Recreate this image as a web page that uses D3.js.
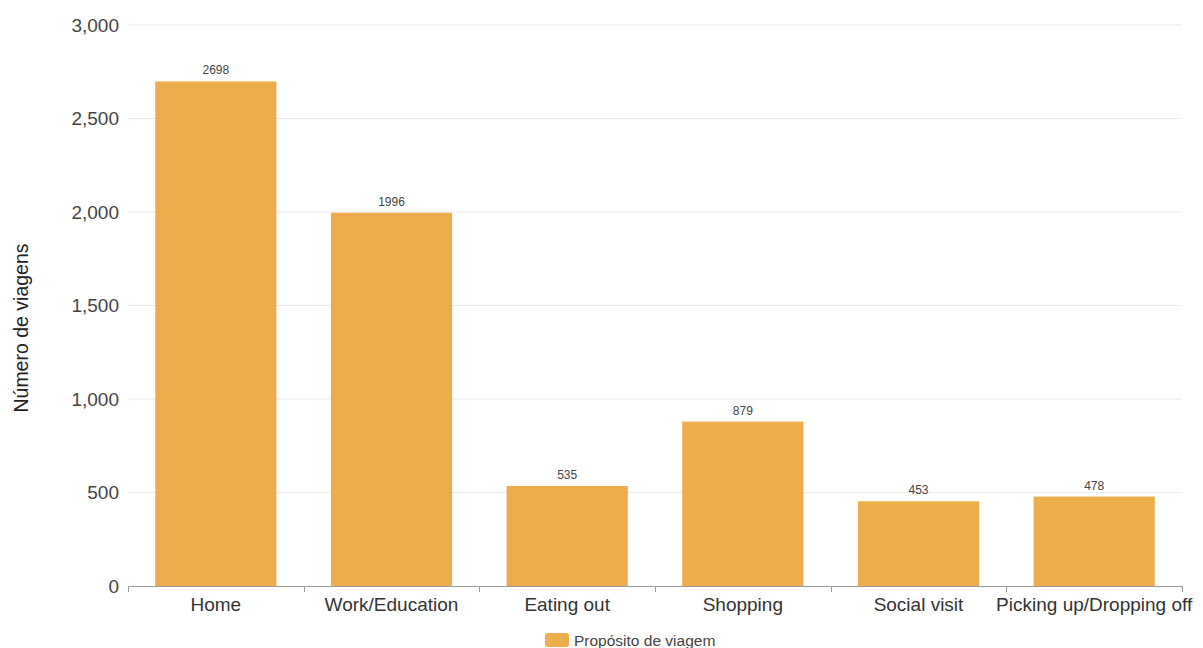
<!DOCTYPE html>
<html>
<head>
<meta charset="utf-8">
<script src="https://cdn.jsdelivr.net/npm/d3@7"></script>
<style>
  html, body { margin: 0; padding: 0; background: #fff; }
  svg { display: block; font-family: "Liberation Sans", Arial, Helvetica, sans-serif; }
</style>
</head>
<body>
<svg id="chart" width="1203" height="648"></svg>
<script>
// Trip purposes and the number of trips for each
const categories = ["Home", "Work/Education", "Eating out", "Shopping", "Social visit", "Picking up/Dropping off"];
const tripCounts = [2698, 1996, 535, 879, 453, 478];
const yTicks = [0, 500, 1000, 1500, 2000, 2500, 3000];
const seriesName = "Propósito de viagem";
const yTitle = "Número de viagens";

const svg = d3.select("#chart");
const margin = { left: 128, right: 21, top: 25, bottom: 62 };
const width = 1203, height = 648;
const barColor = "#ecad4a";

const x = d3.scaleBand()
  .domain(categories)
  .range([margin.left, width - margin.right])
  .paddingInner(0.31)
  .paddingOuter(0.155);

const y = d3.scaleLinear()
  .domain([0, 3000])
  .range([height - margin.bottom, margin.top]);

// Horizontal grid lines
svg.append("g")
  .selectAll("line")
  .data(yTicks.filter(d => d > 0))
  .join("line")
  .attr("x1", margin.left)
  .attr("x2", width - margin.right)
  .attr("y1", d => y(d))
  .attr("y2", d => y(d))
  .attr("stroke", "#ebebeb")
  .attr("stroke-width", 1);

// Y tick labels
svg.append("g")
  .selectAll("text")
  .data(yTicks)
  .join("text")
  .attr("x", margin.left - 9)
  .attr("y", d => y(d))
  .attr("dy", "0.35em")
  .attr("text-anchor", "end")
  .attr("font-size", 19)
  .attr("fill", "#444")
  .text(d => d3.format(",")(d));

// Bars
svg.append("g")
  .selectAll("rect")
  .data(tripCounts)
  .join("rect")
  .attr("x", (d, i) => x(categories[i]))
  .attr("width", x.bandwidth())
  .attr("y", d => y(d))
  .attr("height", d => y(0) - y(d))
  .attr("fill", barColor);

// Value labels above bars
svg.append("g")
  .selectAll("text")
  .data(tripCounts)
  .join("text")
  .attr("x", (d, i) => x(categories[i]) + x.bandwidth() / 2)
  .attr("y", d => y(d) - 7)
  .attr("text-anchor", "middle")
  .attr("font-size", 12)
  .attr("fill", "#444")
  .text(d => d);

// X axis
const step = x.step();
const xAxis = svg.append("g");
xAxis.append("line")
  .attr("x1", margin.left)
  .attr("x2", width - margin.right)
  .attr("y1", y(0) + 0.5)
  .attr("y2", y(0) + 0.5)
  .attr("stroke", "#9a9a9a");
xAxis.selectAll("line.tick")
  .data(d3.range(categories.length + 1))
  .join("line")
  .attr("class", "tick")
  .attr("x1", i => Math.round(margin.left + i * step) + 0.5)
  .attr("x2", i => Math.round(margin.left + i * step) + 0.5)
  .attr("y1", y(0))
  .attr("y2", y(0) + 6)
  .attr("stroke", "#9a9a9a");
xAxis.selectAll("text")
  .data(categories)
  .join("text")
  .attr("x", d => x(d) + x.bandwidth() / 2)
  .attr("y", y(0) + 25)
  .attr("text-anchor", "middle")
  .attr("font-size", 19)
  .attr("fill", "#333")
  .text(d => d);

// Y axis title
svg.append("text")
  .attr("transform", "translate(28, 328) rotate(-90)")
  .attr("text-anchor", "middle")
  .attr("font-size", 19.5)
  .attr("fill", "#222")
  .text(yTitle);

// Legend
const legend = svg.append("g").attr("transform", "translate(545, 633)");
legend.append("rect")
  .attr("width", 24)
  .attr("height", 14)
  .attr("rx", 3)
  .attr("fill", barColor);
legend.append("text")
  .attr("x", 29)
  .attr("y", 12.5)
  .attr("font-size", 15.5)
  .attr("fill", "#444")
  .text(seriesName);
</script>
</body>
</html>
